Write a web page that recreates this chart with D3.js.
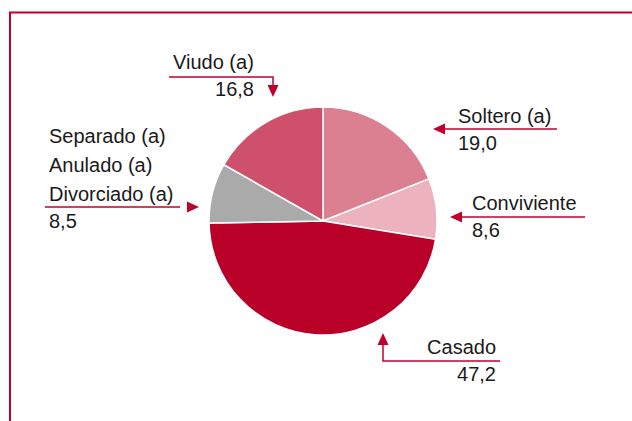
<!DOCTYPE html>
<html>
<head>
<meta charset="utf-8">
<script src="https://d3js.org/d3.v7.min.js"></script>
<style>
  body { margin: 0; background: #fff; }
  text { font-family: "Liberation Sans", Arial, sans-serif; font-size: 20px; fill: #1a1a1a; }
</style>
</head>
<body>
<script>
// Data
var categories = ["Soltero (a)", "Conviviente", "Casado", "Separado (a)|Anulado (a)|Divorciado (a)", "Viudo (a)"];
var values = [19.0, 8.6, 47.2, 8.5, 16.8];
var valueLabels = ["19,0", "8,6", "47,2", "8,5", "16,8"];
var colors = ["#db8091", "#ecb3bf", "#b90029", "#aaaaaa", "#cf506a"];

var red = "#c0002a";
var width = 632, height = 421;
var cx = 323, cy = 221, radius = 114;

var svg = d3.select("body").append("svg")
    .attr("width", width)
    .attr("height", height);

// frame
svg.append("path")
    .attr("d", "M10," + height + " V12.5 H" + width)
    .attr("fill", "none")
    .attr("stroke", red)
    .attr("stroke-width", 2);

var pie = d3.pie().sort(null).value(function(d) { return d; });
var arc = d3.arc().innerRadius(0).outerRadius(radius);

var g = svg.append("g")
    .attr("transform", "translate(" + cx + "," + cy + ")");

g.selectAll("path")
    .data(pie(values))
  .enter().append("path")
    .attr("d", arc)
    .attr("fill", function(d, i) { return colors[i]; })
    .attr("stroke", "#fff")
    .attr("stroke-width", 1.5);

// label layout: title position, value position, leader line, arrow tip
var layout = [
  { x: 458, y: 123, anchor: "start", vx: 458, vanchor: "start", line: [[557, 129], [444, 129]], tip: [433, 129], dir: "left" },
  { x: 472, y: 210, anchor: "start", vx: 472, vanchor: "start", line: [[585, 217], [461, 217]], tip: [450, 217], dir: "left" },
  { x: 496, y: 354, anchor: "end", vx: 496, vanchor: "end", line: [[500, 361], [383, 361], [383, 345]], tip: [383, 333], dir: "up" },
  { x: 49, y: 143, anchor: "start", vx: 49, vanchor: "start", line: [[45, 207], [180, 207]], tip: [199, 207], dir: "right" },
  { x: 173, y: 69, anchor: "start", vx: 254, vanchor: "end", line: [[169, 77], [273, 77], [273, 86]], tip: [273, 97], dir: "down" }
];

function arrowHead(t, dir) {
  var L = 12, W = 5.5, x = t[0], y = t[1];
  if (dir === "left") return [[x, y], [x + L, y - W], [x + L, y + W]];
  if (dir === "right") return [[x, y], [x - L, y - W], [x - L, y + W]];
  if (dir === "up") return [[x, y], [x - W, y + L], [x + W, y + L]];
  return [[x, y], [x - W, y - L], [x + W, y - L]];
}

layout.forEach(function(l, i) {
  var lines = categories[i].split("|");
  var lab = svg.append("g");
  lines.forEach(function(s, j) {
    lab.append("text")
        .attr("x", l.x)
        .attr("y", l.y + j * 29)
        .attr("text-anchor", l.anchor)
        .text(s);
  });
  lab.append("text")
      .attr("x", l.vx)
      .attr("y", l.y + (lines.length - 1) * 29 + 27)
      .attr("text-anchor", l.vanchor)
      .text(valueLabels[i]);

  lab.append("path")
      .attr("d", d3.line()(l.line))
      .attr("fill", "none")
      .attr("stroke", red)
      .attr("stroke-width", 1.5);

  lab.append("path")
      .attr("d", d3.line()(arrowHead(l.tip, l.dir)) + "Z")
      .attr("fill", red);
});
</script>
</body>
</html>
